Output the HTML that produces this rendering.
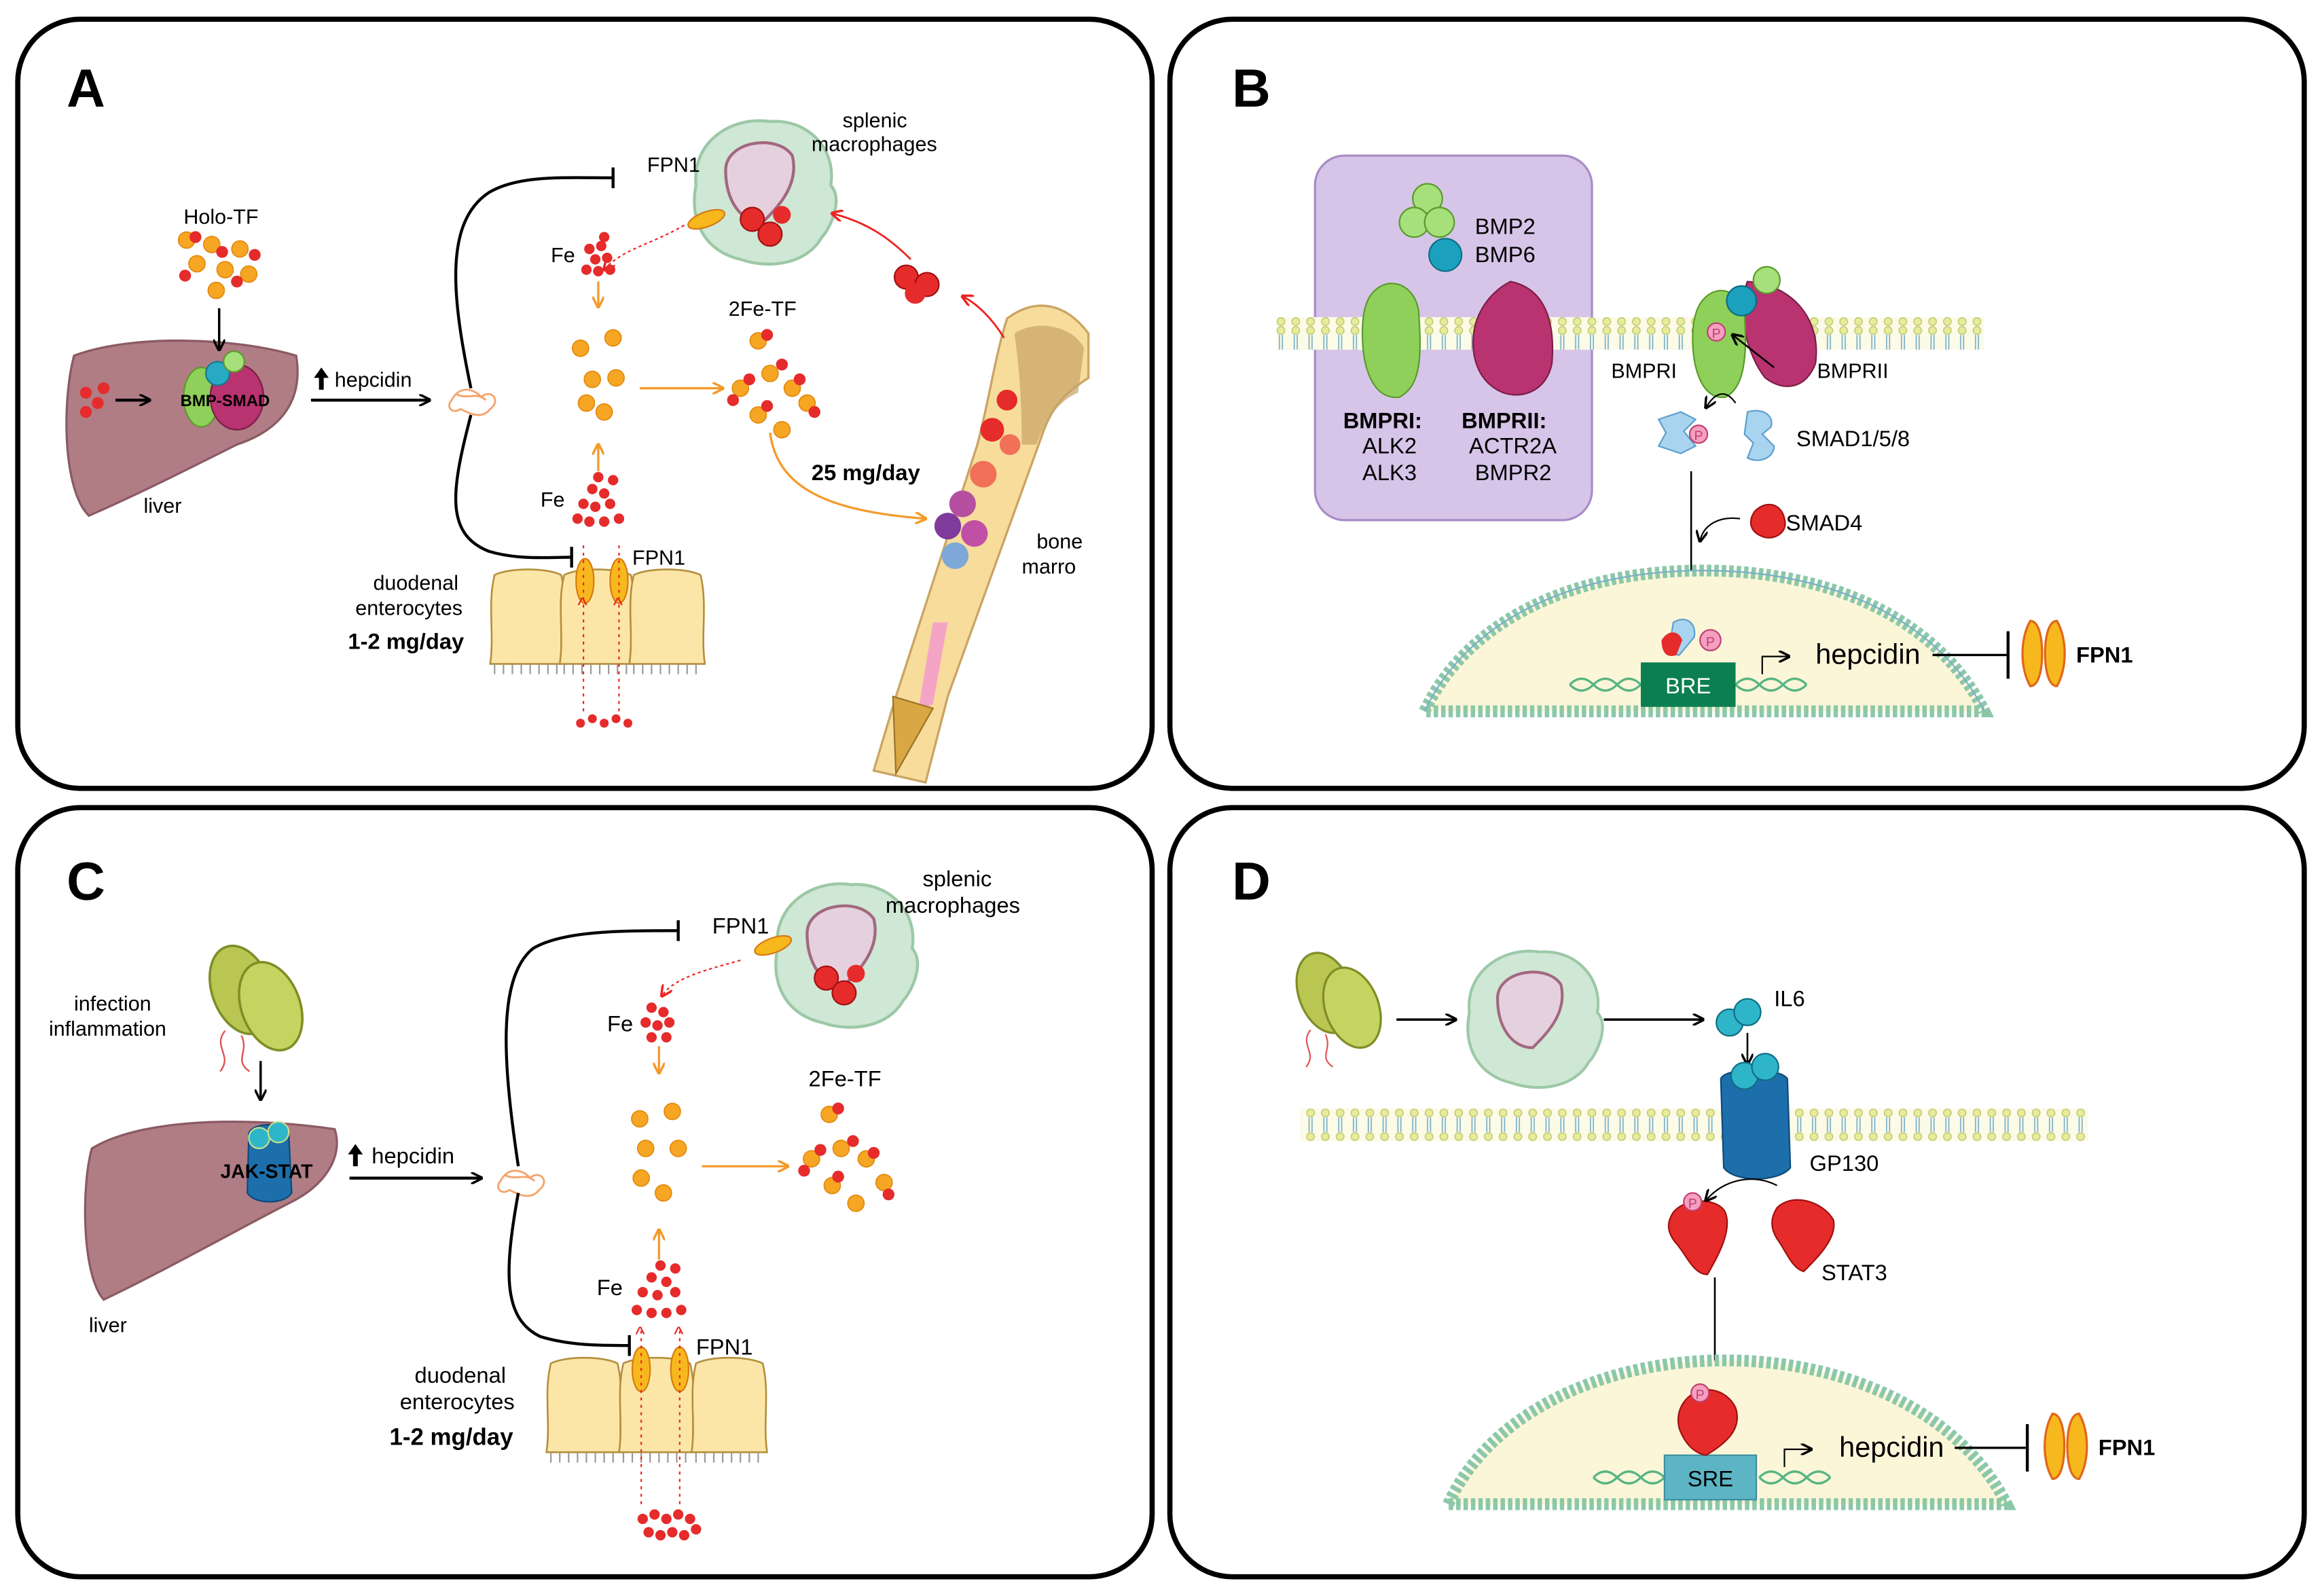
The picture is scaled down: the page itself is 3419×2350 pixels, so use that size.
<!DOCTYPE html>
<html><head><meta charset="utf-8"><style>
html,body{margin:0;padding:0;background:#fff}
svg{display:block}
text{font-family:"Liberation Sans",sans-serif}
</style></head><body>
<svg width="3419" height="2350" viewBox="0 0 1568 1077" preserveAspectRatio="none" xmlns="http://www.w3.org/2000/svg">
<defs>
<marker id="ab" markerWidth="8" markerHeight="8" refX="7" refY="4" orient="auto" markerUnits="userSpaceOnUse"><path d="M0,0 L8,4 L0,8" fill="none" stroke="#000" stroke-width="1.6"/></marker>
<marker id="ao" markerWidth="8" markerHeight="8" refX="7" refY="4" orient="auto" markerUnits="userSpaceOnUse"><path d="M0,0 L8,4 L0,8" fill="none" stroke="#f39a2a" stroke-width="1.6"/></marker>
<marker id="ar" markerWidth="8" markerHeight="8" refX="7" refY="4" orient="auto" markerUnits="userSpaceOnUse"><path d="M0,0 L8,4 L0,8" fill="none" stroke="#e22" stroke-width="1.6"/></marker>
<pattern id="mem" width="10" height="22" patternUnits="userSpaceOnUse">
<rect width="10" height="22" fill="#fbfbe8"/>
<circle cx="5" cy="3" r="2.6" fill="#e8eb9a" stroke="#b9c36a" stroke-width=".6"/>
<circle cx="5" cy="19" r="2.6" fill="#e8eb9a" stroke="#b9c36a" stroke-width=".6"/>
<path d="M4,6 v10 M6,6 v10" stroke="#7ab0c8" stroke-width=".8"/>
</pattern>
<g id="rbc"><circle r="4" fill="#e62b2b"/></g>
<g id="och"><circle r="5.5" fill="#f6a623" stroke="#e38a10" stroke-width=".8"/></g>
<g id="mac"><path d="M-45,-5 C-48,-35 -20,-52 5,-48 C30,-50 50,-30 46,-5 C55,5 45,25 40,30 C30,48 5,52 -15,45 C-38,40 -50,20 -45,-5Z" fill="#cfe7d5" stroke="#9cc8a6" stroke-width="2"/>
<path d="M-25,-15 C-25,-35 10,-40 20,-25 C25,-5 10,10 0,20 C-15,20 -25,5 -25,-15Z" fill="#e5d1dd" stroke="#a2687f" stroke-width="2"/></g>
<g id="ent"><path d="M0,0 C10,-5 35,-5 45,0 C50,20 45,40 48,60 L-3,60 C0,40 -5,20 0,0Z" fill="#fbe6a8" stroke="#b58f3b" stroke-width="1.2"/><path d="M0,60 v7 M6,60 v7 M12,60 v7 M18,60 v7 M24,60 v7 M30,60 v7 M36,60 v7 M42,60 v7" stroke="#999" stroke-width="1"/></g>
<g id="fpn"><path d="M-9,-22 C-16,-10 -16,10 -9,22 C-3,22 -1,10 -1,0 C-1,-10 -3,-22 -9,-22Z M9,-22 C16,-10 16,10 9,22 C3,22 1,10 1,0 C1,-10 3,-22 9,-22Z" fill="#f7b81e" stroke="#e0681a" stroke-width="1.5"/></g>
<g id="bug"><ellipse cx="0" cy="0" rx="18" ry="28" fill="#b9c752" stroke="#7f8d27" stroke-width="1.5" transform="rotate(-20)"/><ellipse cx="18" cy="10" rx="18" ry="28" fill="#c5d460" stroke="#7f8d27" stroke-width="1.5" transform="rotate(-20 18 10)"/><path d="M-10,25 c-8,10 5,15 -3,25 M0,28 c5,10 -5,15 5,22" stroke="#d55" fill="none"/></g>
<g id="up"><path d="M0,-7 L5,0 L1.6,0 L1.6,8 L-1.6,8 L-1.6,0 L-5,0Z" fill="#000"/></g>
</defs>
<rect width="1568" height="1077" fill="#fff"/>
<rect x="12" y="13" width="766" height="519" rx="42" fill="#fff" stroke="#000" stroke-width="3.5"/>
<rect x="790" y="13" width="766" height="519" rx="42" fill="#fff" stroke="#000" stroke-width="3.5"/>
<rect x="12" y="545" width="766" height="519" rx="42" fill="#fff" stroke="#000" stroke-width="3.5"/>
<rect x="790" y="545" width="766" height="519" rx="42" fill="#fff" stroke="#000" stroke-width="3.5"/>
<text x="45" y="72" font-size="36" font-weight="bold">A</text>
<text x="832" y="72" font-size="36" font-weight="bold">B</text>
<text x="45" y="607" font-size="36" font-weight="bold">C</text>
<text x="832" y="607" font-size="36" font-weight="bold">D</text>

<!-- ===== PANEL A ===== -->
<path d="M50,240 C90,225 160,228 200,240 C205,270 190,290 160,300 C120,320 90,335 60,348 C42,330 42,270 50,240Z" fill="#b07d85" stroke="#8a5a63" stroke-width="1.5"/>
<text x="97" y="346" font-size="14">liver</text>
<text x="124" y="151" font-size="14">Holo-TF</text>
<g>
<use href="#och" x="126" y="162"/><use href="#och" x="143" y="165"/><use href="#och" x="162" y="168"/><use href="#och" x="133" y="178"/><use href="#och" x="152" y="182"/><use href="#och" x="168" y="185"/><use href="#och" x="146" y="196"/>
<use href="#rbc" x="132" y="160"/><use href="#rbc" x="150" y="170"/><use href="#rbc" x="172" y="172"/><use href="#rbc" x="125" y="186"/><use href="#rbc" x="160" y="190"/>
</g>
<line x1="148" y1="208" x2="148" y2="236" stroke="#000" stroke-width="1.6" marker-end="url(#ab)"/>
<ellipse cx="136" cy="268" rx="12" ry="20" fill="#8fd05a" stroke="#5a9a2a"/>
<ellipse cx="160" cy="268" rx="18" ry="22" fill="#b8336f" stroke="#7c1d48"/>
<circle cx="147" cy="252" r="8" fill="#28a9c4" stroke="#16788e"/>
<circle cx="158" cy="244" r="7" fill="#a6e07a" stroke="#5a9a2a"/>
<text x="152" y="274" font-size="11" font-weight="bold" text-anchor="middle">BMP-SMAD</text>
<use href="#rbc" x="58" y="265"/><use href="#rbc" x="66" y="272"/><use href="#rbc" x="58" y="278"/><use href="#rbc" x="70" y="262"/>
<line x1="78" y1="270" x2="101" y2="270" stroke="#000" stroke-width="2" marker-end="url(#ab)"/>
<line x1="210" y1="270" x2="290" y2="270" stroke="#000" stroke-width="2" marker-end="url(#ab)"/>
<use href="#up" x="217" y="255"/><text x="226" y="261" font-size="14">hepcidin</text>
<path d="M305,270 c5,-10 15,-8 20,-2 c6,-6 14,2 6,8 c-6,8 -16,2 -20,0 c-6,4 -10,-2 -6,-6z M308,266 c8,4 14,-2 20,4" fill="none" stroke="#f4a36a" stroke-width="1.3"/>
<path d="M318,262 C305,200 300,150 330,130 C350,118 380,120 414,120" fill="none" stroke="#000" stroke-width="2"/>
<line x1="414" y1="113" x2="414" y2="127" stroke="#000" stroke-width="2"/>
<path d="M318,280 C305,330 300,360 330,372 C350,378 370,376 386,376" fill="none" stroke="#000" stroke-width="2"/>
<line x1="386" y1="369" x2="386" y2="383" stroke="#000" stroke-width="2"/>
<use href="#mac" x="515" y="130"/>
<circle cx="508" cy="148" r="8" fill="#e62b2b" stroke="#a01010"/><circle cx="520" cy="158" r="8" fill="#e62b2b" stroke="#a01010"/><circle cx="528" cy="145" r="6" fill="#e62b2b"/>
<ellipse cx="477" cy="148" rx="13" ry="5" fill="#f7b81e" stroke="#d77a10" transform="rotate(-20 477 148)"/>
<text x="569" y="86" font-size="14">splenic</text><text x="548" y="102" font-size="14">macrophages</text>
<text x="437" y="116" font-size="14">FPN1</text>
<path d="M462,152 C440,165 420,168 408,182" fill="none" stroke="#e22" stroke-dasharray="2 2" marker-end="url(#ar)"/>
<text x="372" y="177" font-size="14">Fe</text>
<g fill="#e62b2b"><circle cx="398" cy="168" r="3.5"/><circle cx="406" cy="166" r="3.5"/><circle cx="402" cy="175" r="3.5"/><circle cx="410" cy="174" r="3.5"/><circle cx="396" cy="182" r="3.5"/><circle cx="404" cy="183" r="3.5"/><circle cx="412" cy="182" r="3.5"/><circle cx="408" cy="160" r="3.5"/></g>
<line x1="404" y1="190" x2="404" y2="207" stroke="#f39a2a" stroke-width="1.5" marker-end="url(#ao)"/>
<use href="#och" x="392" y="235"/><use href="#och" x="414" y="228"/><use href="#och" x="400" y="256"/><use href="#och" x="416" y="255"/><use href="#och" x="396" y="272"/><use href="#och" x="408" y="278"/>
<line x1="432" y1="262" x2="488" y2="262" stroke="#f39a2a" stroke-width="1.5" marker-end="url(#ao)"/>
<text x="492" y="213" font-size="14">2Fe-TF</text>
<g><use href="#och" x="512" y="230"/><use href="#och" x="500" y="262"/><use href="#och" x="520" y="252"/><use href="#och" x="535" y="262"/><use href="#och" x="512" y="280"/><use href="#och" x="528" y="290"/><use href="#och" x="545" y="272"/>
<use href="#rbc" x="518" y="226"/><use href="#rbc" x="506" y="256"/><use href="#rbc" x="528" y="246"/><use href="#rbc" x="540" y="256"/><use href="#rbc" x="518" y="274"/><use href="#rbc" x="550" y="278"/><use href="#rbc" x="495" y="270"/></g>
<text x="365" y="342" font-size="14">Fe</text>
<g fill="#e62b2b"><circle cx="400" cy="330" r="3.5"/><circle cx="408" cy="333" r="3.5"/><circle cx="394" cy="340" r="3.5"/><circle cx="402" cy="342" r="3.5"/><circle cx="412" cy="340" r="3.5"/><circle cx="390" cy="350" r="3.5"/><circle cx="398" cy="352" r="3.5"/><circle cx="408" cy="352" r="3.5"/><circle cx="418" cy="350" r="3.5"/><circle cx="404" cy="322" r="3.5"/><circle cx="414" cy="324" r="3.5"/></g>
<line x1="404" y1="318" x2="404" y2="300" stroke="#f39a2a" stroke-width="1.5" marker-end="url(#ao)"/>
<use href="#ent" x="334" y="388"/><use href="#ent" x="381" y="388"/><use href="#ent" x="428" y="388"/>
<ellipse cx="395" cy="392" rx="6" ry="15" fill="#f7b81e" stroke="#d77a10"/><ellipse cx="418" cy="392" rx="6" ry="15" fill="#f7b81e" stroke="#d77a10"/>
<path d="M394,480 V365 M418,480 V365" stroke="#e22" stroke-dasharray="2 3"/>
<text x="390" y="413" font-size="14" fill="#e22">^</text><text x="414" y="413" font-size="14" fill="#e22">^</text>
<text x="427" y="381" font-size="14">FPN1</text>
<text x="252" y="398" font-size="14">duodenal</text><text x="240" y="415" font-size="14">enterocytes</text>
<text x="235" y="438" font-size="15" font-weight="bold">1-2 mg/day</text>
<g fill="#e62b2b"><circle cx="392" cy="488" r="3"/><circle cx="400" cy="485" r="3"/><circle cx="408" cy="488" r="3"/><circle cx="416" cy="485" r="3"/><circle cx="424" cy="488" r="3"/></g>
<path d="M680,215 C700,200 720,205 735,225 L735,255 C720,265 712,272 705,290 L640,470 L625,528 L590,520 L605,470 L660,300 C668,270 672,240 680,215Z" fill="#f7dc9c" stroke="#c9a463" stroke-width="1.5"/>
<path d="M685,225 C700,215 725,220 732,235 L728,265 C715,270 705,285 700,300 L690,300 C690,270 688,245 685,225Z" fill="#c8a26a" opacity=".7"/>
<path d="M640,420 L630,475 L620,480 L630,420Z" fill="#f4a5c5"/>
<path d="M603,470 L630,478 L605,522Z" fill="#d9a743" stroke="#9a7228"/>
<g><circle cx="680" cy="270" r="7" fill="#e62b2b"/><circle cx="670" cy="290" r="8" fill="#e62b2b"/><circle cx="682" cy="300" r="7" fill="#f07058"/><circle cx="664" cy="320" r="9" fill="#f07058"/><circle cx="650" cy="340" r="9" fill="#b64fa0"/><circle cx="640" cy="355" r="9" fill="#7f3a9b"/><circle cx="658" cy="360" r="9" fill="#c050a6"/><circle cx="645" cy="375" r="9" fill="#7da8d8"/></g>
<text x="548" y="324" font-size="15" font-weight="bold">25 mg/day</text>
<path d="M520,292 C525,330 560,345 625,350" fill="none" stroke="#f39a2a" stroke-width="1.5" marker-end="url(#ao)"/>
<text x="700" y="370" font-size="14">bone</text><text x="690" y="387" font-size="14">marro</text>
<circle cx="612" cy="187" r="8" fill="#e62b2b" stroke="#a01010"/><circle cx="626" cy="192" r="8" fill="#e62b2b" stroke="#a01010"/><circle cx="618" cy="198" r="7" fill="#e62b2b"/>
<path d="M615,175 C600,160 585,150 562,144" fill="none" stroke="#e22" stroke-width="1.3" marker-end="url(#ar)"/>
<path d="M678,228 C670,215 660,205 650,200" fill="none" stroke="#e22" stroke-width="1.3" marker-end="url(#ar)"/>

<!-- ===== PANEL B ===== -->
<rect x="888" y="105" width="187" height="246" rx="20" fill="#d6c5e8" stroke="#a98dc6" stroke-width="1.5"/>
<rect x="862" y="214" width="478" height="22" fill="url(#mem)"/>
<circle cx="964" cy="134" r="10" fill="#a6e07a" stroke="#5a9a2a"/><circle cx="955" cy="150" r="10" fill="#a6e07a" stroke="#5a9a2a"/><circle cx="972" cy="150" r="10" fill="#a6e07a" stroke="#5a9a2a"/><circle cx="976" cy="172" r="11" fill="#1ba1be" stroke="#0f6d82"/>
<text x="996" y="158" font-size="15">BMP2</text><text x="996" y="177" font-size="15">BMP6</text>
<path d="M925,200 C935,185 955,190 958,210 C960,240 960,260 945,268 C928,270 920,250 920,225 C920,212 922,205 925,200Z" fill="#8fd05a" stroke="#5a9a2a"/>
<path d="M1020,190 C1045,195 1050,220 1048,245 C1045,262 1030,270 1015,265 C998,258 992,240 996,220 C1000,205 1010,195 1020,190Z" fill="#b8336f" stroke="#7c1d48"/>
<text x="907" y="289" font-size="15" font-weight="bold">BMPRI:</text><text x="920" y="306" font-size="15">ALK2</text><text x="920" y="324" font-size="15">ALK3</text>
<text x="987" y="289" font-size="15" font-weight="bold">BMPRII:</text><text x="992" y="306" font-size="15">ACTR2A</text><text x="996" y="324" font-size="15">BMPR2</text>
<path d="M1180,190 C1210,192 1230,215 1226,245 C1220,262 1205,265 1192,255 C1180,240 1172,210 1180,190Z" fill="#b8336f" stroke="#7c1d48"/>
<path d="M1148,205 C1158,190 1175,195 1178,212 C1180,240 1178,262 1165,268 C1150,270 1143,250 1143,228 C1143,218 1145,210 1148,205Z" fill="#8fd05a" stroke="#5a9a2a"/>
<circle cx="1193" cy="189" r="9" fill="#a6e07a" stroke="#5a9a2a"/><circle cx="1176" cy="203" r="10" fill="#1ba1be" stroke="#0f6d82"/>
<circle cx="1159" cy="224" r="6" fill="#f5a0c0" stroke="#c04070"/><text x="1159" y="228" font-size="9" text-anchor="middle" fill="#c04070">P</text>
<line x1="1198" y1="248" x2="1170" y2="226" stroke="#000" stroke-width="1.2" marker-end="url(#ab)"/>
<text x="1088" y="255" font-size="14">BMPRI</text><text x="1227" y="255" font-size="14">BMPRII</text>
<path d="M1120,283 l15,-5 l10,5 l-8,8 l8,10 l-10,5 l-15,-5 l5,-9z" fill="#a9d4ef" stroke="#5a9fcf"/>
<circle cx="1147" cy="293" r="6" fill="#f5a0c0" stroke="#c04070"/><text x="1147" y="297" font-size="9" text-anchor="middle" fill="#c04070">P</text>
<path d="M1180,278 c10,-3 18,2 16,10 l-6,5 l8,8 c0,8 -10,12 -18,8 l4,-10 l-6,-6z" fill="#a9d4ef" stroke="#5a9fcf"/>
<path d="M1172,272 C1165,262 1158,265 1152,275" fill="none" stroke="#000" marker-end="url(#ab)"/>
<text x="1213" y="301" font-size="15">SMAD1/5/8</text>
<line x1="1142" y1="318" x2="1142" y2="392" stroke="#000" stroke-width="1.2" marker-end="url(#ab)"/>
<path d="M1185,345 c8,-8 18,-5 20,5 c3,10 -8,15 -15,12 c-8,-3 -10,-10 -5,-17z" fill="#e62b2b" stroke="#a01010"/>
<text x="1206" y="358" font-size="15">SMAD4</text>
<path d="M1175,350 C1160,348 1150,355 1148,365" fill="none" stroke="#000" marker-end="url(#ab)"/>
<path d="M962,480 C990,420 1060,385 1150,385 C1240,385 1310,420 1340,480Z" fill="#fcf6d9" stroke="#8cc8a8" stroke-width="8" stroke-dasharray="3 2"/>
<path d="M962,480 C990,420 1060,385 1150,385 C1240,385 1310,420 1340,480" fill="none" stroke="#7ab0c8" stroke-width="1"/>
<path d="M1060,462 q8,-8 16,0 t16,0 t16,0 M1060,462 q8,8 16,0 t16,0 t16,0 M1172,462 q8,-8 16,0 t16,0 t16,0 M1172,462 q8,8 16,0 t16,0 t16,0" fill="none" stroke="#57b583" stroke-width="1.5"/>
<rect x="1108" y="447" width="64" height="30" fill="#0b7f4f"/>
<text x="1140" y="468" font-size="15" fill="#fff" text-anchor="middle">BRE</text>
<path d="M1130,420 c8,-5 16,0 14,10 l-10,12 c-6,0 -8,-6 -6,-10z" fill="#a9d4ef" stroke="#5a9fcf"/>
<path d="M1122,432 c5,-8 12,-6 14,0 l-4,10 c-5,2 -10,0 -10,-10z" fill="#e62b2b"/>
<circle cx="1155" cy="432" r="7" fill="#f5a0c0" stroke="#c04070"/><text x="1155" y="436" font-size="9" text-anchor="middle" fill="#c04070">P</text>
<path d="M1190,455 v-12 h18" fill="none" stroke="#000" marker-end="url(#ab)"/>
<text x="1226" y="448" font-size="19">hepcidin</text>
<line x1="1305" y1="442" x2="1355" y2="442" stroke="#000" stroke-width="1.5"/><line x1="1356" y1="426" x2="1356" y2="458" stroke="#000" stroke-width="2"/>
<use href="#fpn" x="1380" y="441"/>
<text x="1402" y="447" font-size="15" font-weight="bold">FPN1</text>

<!-- ===== PANEL C ===== -->
<path d="M62,775 C100,752 180,755 226,762 C232,780 220,800 195,812 C160,830 110,858 70,877 C55,860 55,800 62,775Z" fill="#b07d85" stroke="#8a5a63" stroke-width="1.5"/>
<text x="60" y="899" font-size="14">liver</text>
<text x="50" y="682" font-size="14">infection</text><text x="33" y="699" font-size="14">inflammation</text>
<g transform="translate(163,668) scale(1.1)"><use href="#bug"/></g>
<line x1="176" y1="716" x2="176" y2="742" stroke="#000" stroke-width="1.6" marker-end="url(#ab)"/>
<path d="M168,765 c2,-8 25,-8 27,0 l2,40 c-5,8 -25,8 -30,0z" fill="#1c6faa" stroke="#0d4a7a"/>
<circle cx="175" cy="768" r="7" fill="#2fb5c9" stroke="#c7e08a"/><circle cx="188" cy="764" r="7" fill="#2fb5c9" stroke="#c7e08a"/>
<text x="180" y="795" font-size="13" font-weight="bold" text-anchor="middle">JAK-STAT</text>
<line x1="236" y1="795" x2="325" y2="795" stroke="#000" stroke-width="2" marker-end="url(#ab)"/>
<use href="#up" x="240" y="779"/><text x="251" y="785" font-size="15">hepcidin</text>
<path d="M338,797 c5,-10 15,-8 20,-2 c6,-6 14,2 6,8 c-6,8 -16,2 -20,0 c-6,4 -10,-2 -6,-6z M341,793 c8,4 14,-2 20,4" fill="none" stroke="#f4a36a" stroke-width="1.3"/>
<path d="M350,787 C340,720 335,660 360,640 C380,628 420,628 458,628" fill="none" stroke="#000" stroke-width="2"/>
<line x1="458" y1="621" x2="458" y2="635" stroke="#000" stroke-width="2"/>
<path d="M350,805 C340,860 340,890 365,902 C385,908 405,908 425,908" fill="none" stroke="#000" stroke-width="2"/>
<line x1="425" y1="901" x2="425" y2="915" stroke="#000" stroke-width="2"/>
<use href="#mac" x="570" y="645"/>
<circle cx="558" cy="660" r="8" fill="#e62b2b" stroke="#a01010"/><circle cx="570" cy="670" r="8" fill="#e62b2b" stroke="#a01010"/><circle cx="578" cy="657" r="6" fill="#e62b2b"/>
<ellipse cx="522" cy="638" rx="13" ry="5" fill="#f7b81e" stroke="#d77a10" transform="rotate(-20 522 638)"/>
<text x="623" y="598" font-size="15">splenic</text><text x="598" y="616" font-size="15">macrophages</text>
<text x="481" y="630" font-size="15">FPN1</text>
<path d="M500,648 C475,655 455,660 447,672" fill="none" stroke="#e22" stroke-dasharray="2 2" marker-end="url(#ar)"/>
<text x="410" y="696" font-size="15">Fe</text>
<g fill="#e62b2b"><circle cx="440" cy="680" r="3.5"/><circle cx="448" cy="683" r="3.5"/><circle cx="436" cy="690" r="3.5"/><circle cx="444" cy="692" r="3.5"/><circle cx="452" cy="690" r="3.5"/><circle cx="440" cy="700" r="3.5"/><circle cx="450" cy="700" r="3.5"/></g>
<line x1="445" y1="706" x2="445" y2="724" stroke="#f39a2a" stroke-width="1.5" marker-end="url(#ao)"/>
<use href="#och" x="432" y="755"/><use href="#och" x="454" y="750"/><use href="#och" x="436" y="775"/><use href="#och" x="458" y="775"/><use href="#och" x="433" y="795"/><use href="#och" x="448" y="805"/>
<line x1="474" y1="787" x2="532" y2="787" stroke="#f39a2a" stroke-width="1.5" marker-end="url(#ao)"/>
<text x="546" y="733" font-size="15">2Fe-TF</text>
<g><use href="#och" x="560" y="752"/><use href="#och" x="548" y="782"/><use href="#och" x="568" y="775"/><use href="#och" x="585" y="782"/><use href="#och" x="562" y="800"/><use href="#och" x="578" y="812"/><use href="#och" x="597" y="798"/>
<use href="#rbc" x="566" y="748"/><use href="#rbc" x="554" y="776"/><use href="#rbc" x="576" y="770"/><use href="#rbc" x="590" y="778"/><use href="#rbc" x="566" y="794"/><use href="#rbc" x="600" y="806"/><use href="#rbc" x="543" y="790"/></g>
<text x="403" y="874" font-size="15">Fe</text>
<g fill="#e62b2b"><circle cx="440" cy="862" r="3.5"/><circle cx="450" cy="865" r="3.5"/><circle cx="434" cy="872" r="3.5"/><circle cx="444" cy="874" r="3.5"/><circle cx="456" cy="872" r="3.5"/><circle cx="430" cy="884" r="3.5"/><circle cx="440" cy="886" r="3.5"/><circle cx="450" cy="886" r="3.5"/><circle cx="460" cy="884" r="3.5"/><circle cx="446" cy="854" r="3.5"/><circle cx="456" cy="856" r="3.5"/></g>
<line x1="445" y1="850" x2="445" y2="830" stroke="#f39a2a" stroke-width="1.5" marker-end="url(#ao)"/>
<use href="#ent" x="372" y="920"/><use href="#ent" x="421" y="920"/><use href="#ent" x="470" y="920"/>
<ellipse cx="433" cy="924" rx="6" ry="15" fill="#f7b81e" stroke="#d77a10"/><ellipse cx="459" cy="924" rx="6" ry="15" fill="#f7b81e" stroke="#d77a10"/>
<path d="M433,1015 V897 M459,1015 V897" stroke="#e22" stroke-dasharray="2 3"/>
<text x="429" y="905" font-size="14" fill="#e22">^</text><text x="455" y="905" font-size="14" fill="#e22">^</text>
<text x="470" y="914" font-size="15">FPN1</text>
<text x="280" y="933" font-size="15">duodenal</text><text x="270" y="951" font-size="15">enterocytes</text>
<text x="263" y="975" font-size="16" font-weight="bold">1-2 mg/day</text>
<g fill="#e62b2b"><circle cx="434" cy="1025" r="3.5"/><circle cx="442" cy="1022" r="3.5"/><circle cx="450" cy="1025" r="3.5"/><circle cx="458" cy="1022" r="3.5"/><circle cx="466" cy="1025" r="3.5"/><circle cx="438" cy="1034" r="3.5"/><circle cx="446" cy="1036" r="3.5"/><circle cx="454" cy="1034" r="3.5"/><circle cx="462" cy="1036" r="3.5"/><circle cx="470" cy="1032" r="3.5"/></g>

<!-- ===== PANEL D ===== -->
<use href="#bug" x="895" y="670"/>
<line x1="943" y1="688" x2="983" y2="688" stroke="#000" stroke-width="1.6" marker-end="url(#ab)"/>
<g transform="translate(1035,688) scale(0.95)"><use href="#mac"/></g>
<line x1="1083" y1="688" x2="1150" y2="688" stroke="#000" stroke-width="1.6" marker-end="url(#ab)"/>
<circle cx="1168" cy="690" r="9" fill="#2fb5c9" stroke="#0f6d82"/><circle cx="1180" cy="683" r="9" fill="#2fb5c9" stroke="#0f6d82"/>
<text x="1198" y="679" font-size="15">IL6</text>
<line x1="1180" y1="697" x2="1180" y2="718" stroke="#000" stroke-width="1.2" marker-end="url(#ab)"/>
<rect x="878" y="748" width="532" height="22" fill="url(#mem)"/>
<path d="M1162,728 c3,-8 40,-8 45,0 l2,60 c-8,10 -38,10 -45,0z" fill="#1c6faa" stroke="#0d4a7a"/>
<circle cx="1178" cy="726" r="9" fill="#2fb5c9" stroke="#0f6d82"/><circle cx="1192" cy="720" r="9" fill="#2fb5c9" stroke="#0f6d82"/>
<text x="1222" y="790" font-size="15">GP130</text>
<path d="M1130,818 c8,-10 30,-10 35,0 c5,12 -5,30 -12,42 c-10,0 -15,-15 -22,-22 c-6,-8 -5,-14 -1,-20z" fill="#e62b2b" stroke="#a01010"/>
<path d="M1200,815 c10,-10 30,-5 38,8 c3,12 -10,25 -20,35 c-8,-2 -12,-14 -18,-22 c-5,-8 -4,-15 0,-21z" fill="#e62b2b" stroke="#a01010"/>
<circle cx="1143" cy="811" r="6" fill="#f5a0c0" stroke="#c04070"/><text x="1143" y="815" font-size="9" text-anchor="middle" fill="#c04070">P</text>
<path d="M1200,800 C1185,792 1165,795 1152,810" fill="none" stroke="#000" marker-end="url(#ab)"/>
<text x="1230" y="864" font-size="15">STAT3</text>
<line x1="1158" y1="862" x2="1158" y2="932" stroke="#000" stroke-width="1.2" marker-end="url(#ab)"/>
<path d="M978,1015 C1005,955 1080,918 1165,918 C1250,918 1325,955 1355,1015Z" fill="#fcf6d9" stroke="#8cc8a8" stroke-width="8" stroke-dasharray="3 2"/>
<path d="M1076,997 q8,-8 16,0 t16,0 t16,0 M1076,997 q8,8 16,0 t16,0 t16,0 M1188,997 q8,-8 16,0 t16,0 t16,0 M1188,997 q8,8 16,0 t16,0 t16,0" fill="none" stroke="#57b583" stroke-width="1.5"/>
<rect x="1124" y="982" width="62" height="30" fill="#5cb4c4" stroke="#3f8fa0"/>
<text x="1155" y="1003" font-size="15" text-anchor="middle">SRE</text>
<path d="M1138,945 c10,-12 28,-8 34,5 c5,15 -8,25 -20,32 c-10,-2 -15,-10 -18,-18 c-2,-8 0,-14 4,-19z" fill="#e62b2b" stroke="#a01010"/>
<circle cx="1148" cy="940" r="6" fill="#f5a0c0" stroke="#c04070"/><text x="1148" y="944" font-size="9" text-anchor="middle" fill="#c04070">P</text>
<path d="M1205,990 v-12 h18" fill="none" stroke="#000" marker-end="url(#ab)"/>
<text x="1242" y="983" font-size="19">hepcidin</text>
<line x1="1320" y1="977" x2="1368" y2="977" stroke="#000" stroke-width="1.5"/><line x1="1369" y1="961" x2="1369" y2="993" stroke="#000" stroke-width="2"/>
<use href="#fpn" x="1395" y="976"/>
<text x="1417" y="982" font-size="15" font-weight="bold">FPN1</text>
</svg>
</body></html>
